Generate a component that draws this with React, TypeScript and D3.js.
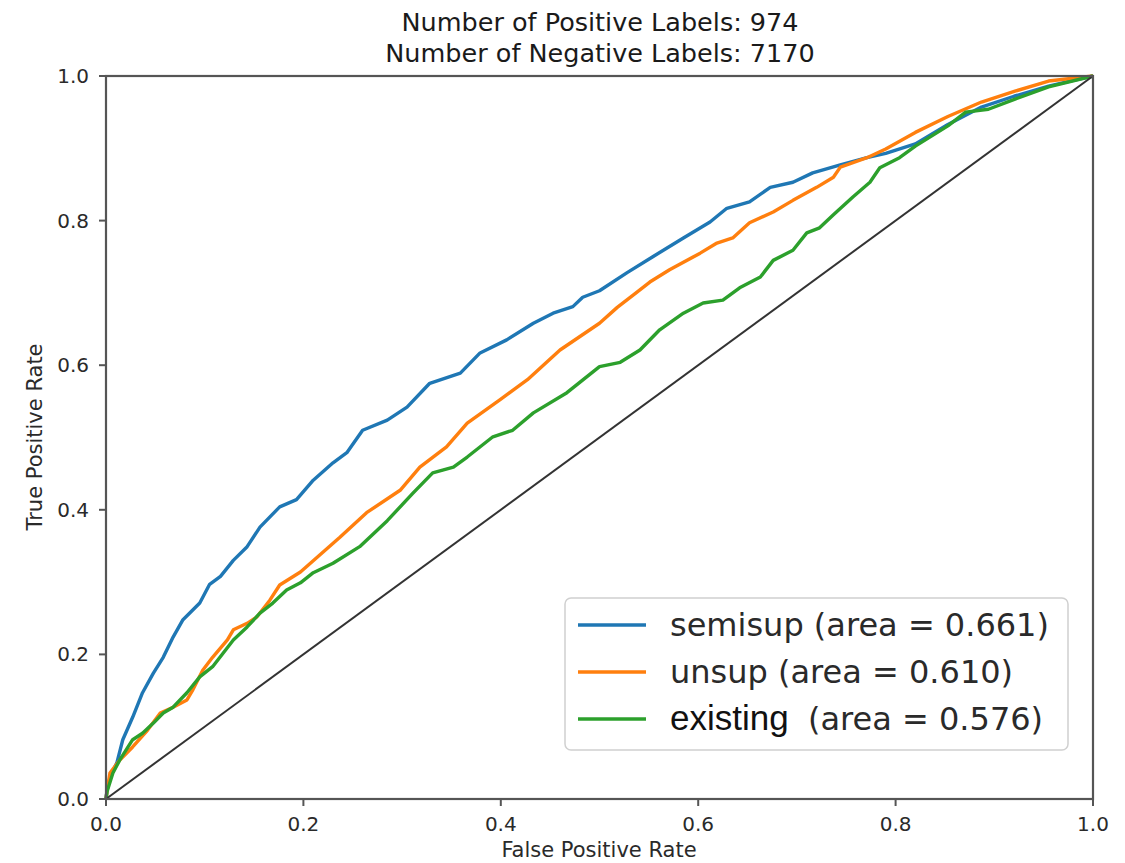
import * as d3 from 'd3';

// ROC points: [false positive rate, true positive rate]
const semisupPoints: [number, number][] = [
  [0, 0], [0.001, 0.012], [0.004, 0.03], [0.011, 0.05], [0.017, 0.082], [0.027, 0.113],
  [0.037, 0.147], [0.048, 0.174], [0.058, 0.196], [0.068, 0.224], [0.078, 0.248], [0.095, 0.271],
  [0.105, 0.297], [0.116, 0.308], [0.129, 0.33], [0.143, 0.349], [0.156, 0.376], [0.176, 0.404],
  [0.193, 0.414], [0.21, 0.441], [0.23, 0.465], [0.244, 0.479], [0.26, 0.51], [0.285, 0.524],
  [0.305, 0.542], [0.328, 0.575], [0.359, 0.589], [0.379, 0.617], [0.406, 0.635], [0.433, 0.658],
  [0.453, 0.672], [0.473, 0.681], [0.483, 0.694], [0.5, 0.703], [0.528, 0.728], [0.554, 0.75],
  [0.585, 0.776], [0.612, 0.798], [0.629, 0.817], [0.652, 0.826], [0.673, 0.846], [0.696, 0.853],
  [0.716, 0.866], [0.744, 0.877], [0.771, 0.887], [0.79, 0.893], [0.82, 0.906], [0.853, 0.933],
  [0.887, 0.957], [0.92, 0.972], [0.955, 0.986], [0.98, 0.994], [1, 1],
];

const unsupPoints: [number, number][] = [
  [0, 0], [0.001, 0.01], [0.004, 0.036], [0.014, 0.054], [0.027, 0.072], [0.042, 0.095],
  [0.055, 0.119], [0.068, 0.127], [0.082, 0.137], [0.088, 0.151], [0.098, 0.178], [0.108, 0.196],
  [0.123, 0.22], [0.129, 0.234], [0.143, 0.243], [0.153, 0.252], [0.166, 0.275], [0.176, 0.296],
  [0.197, 0.314], [0.237, 0.362], [0.264, 0.396], [0.298, 0.427], [0.318, 0.459], [0.345, 0.487],
  [0.366, 0.52], [0.399, 0.552], [0.427, 0.58], [0.46, 0.621], [0.5, 0.658], [0.518, 0.68],
  [0.538, 0.701], [0.551, 0.715], [0.571, 0.732], [0.602, 0.755], [0.619, 0.769], [0.635, 0.776],
  [0.652, 0.797], [0.676, 0.812], [0.696, 0.828], [0.72, 0.846], [0.737, 0.86], [0.744, 0.874],
  [0.771, 0.887], [0.79, 0.899], [0.82, 0.922], [0.853, 0.944], [0.887, 0.964], [0.921, 0.979],
  [0.955, 0.993], [1, 1],
];

const existingPoints: [number, number][] = [
  [0, 0], [0.001, 0.01], [0.007, 0.036], [0.014, 0.054], [0.027, 0.082], [0.037, 0.091],
  [0.048, 0.105], [0.058, 0.119], [0.068, 0.127], [0.082, 0.147], [0.095, 0.169], [0.108, 0.183],
  [0.129, 0.22], [0.143, 0.238], [0.156, 0.257], [0.169, 0.271], [0.183, 0.289], [0.197, 0.299],
  [0.21, 0.313], [0.23, 0.326], [0.257, 0.349], [0.285, 0.385], [0.311, 0.423], [0.331, 0.451],
  [0.352, 0.459], [0.366, 0.473], [0.392, 0.501], [0.412, 0.51], [0.433, 0.534], [0.467, 0.562],
  [0.5, 0.598], [0.521, 0.604], [0.541, 0.621], [0.561, 0.649], [0.585, 0.672], [0.605, 0.686],
  [0.625, 0.69], [0.642, 0.707], [0.663, 0.722], [0.676, 0.745], [0.696, 0.759], [0.71, 0.783],
  [0.723, 0.79], [0.737, 0.808], [0.757, 0.833], [0.774, 0.853], [0.784, 0.873], [0.804, 0.887],
  [0.82, 0.903], [0.853, 0.931], [0.871, 0.95], [0.894, 0.954], [0.921, 0.968], [0.955, 0.985],
  [1, 1],
];

const chancePoints: [number, number][] = [[0, 0], [1, 1]];

const seriesNames = ['semisup', 'unsup', 'existing'];
const seriesAreas = ['0.661', '0.610', '0.576'];
const seriesColors = ['#1f77b4', '#ff7f0e', '#2ca02c'];
const tickValues = [0, 0.2, 0.4, 0.6, 0.8, 1.0];
const titleLines = ['Number of Positive Labels: 974', 'Number of Negative Labels: 7170'];

const W = 1125;
const H = 863;
const font = 'DejaVu Sans, sans-serif';

export default function App() {
  const x = d3.scaleLinear().domain([0, 1]).range([106, 1093]);
  const y = d3.scaleLinear().domain([0, 1]).range([799, 76]);
  const line = d3.line<[number, number]>().x(d => x(d[0])).y(d => y(d[1]));
  const allSeries = [semisupPoints, unsupPoints, existingPoints];

  // legend geometry
  const lgX = 565, lgY = 598, lgW = 503, lgH = 152;
  const rowBase = [636, 683, 730];

  return (
    <svg width={W} height={H} style={{ position: 'absolute', left: 0, top: 0, background: '#fff' }}>
      <rect x={0} y={0} width={W} height={H} fill="#fff" />
      {titleLines.map((t, i) => (
        <text key={t} x={600} y={31 + i * 31} textAnchor="middle" fontFamily={font} fontSize={25.5} fill="#1a1a1a">
          {t}
        </text>
      ))}

      <g>
        {allSeries.map((pts, i) => (
          <path key={seriesNames[i]} d={line(pts) ?? ''} fill="none" stroke={seriesColors[i]}
            strokeWidth={3.4} strokeLinejoin="round" />
        ))}
        <path d={line(chancePoints) ?? ''} fill="none" stroke="#333" strokeWidth={2} />
      </g>

      {/* spines */}
      <rect x={x(0)} y={y(1)} width={x(1) - x(0)} height={y(0) - y(1)} fill="none" stroke="#555" strokeWidth={2.2} />

      {/* x ticks */}
      {tickValues.map(v => (
        <g key={'x' + v}>
          <line x1={x(v)} x2={x(v)} y1={y(0)} y2={y(0) + 7} stroke="#555" strokeWidth={2} />
          <text x={x(v)} y={831} textAnchor="middle" fontFamily={font} fontSize={20} fill="#2a2a2a">
            {v.toFixed(1)}
          </text>
        </g>
      ))}
      {/* y ticks */}
      {tickValues.map(v => (
        <g key={'y' + v}>
          <line x1={x(0) - 7} x2={x(0)} y1={y(v)} y2={y(v)} stroke="#555" strokeWidth={2} />
          <text x={89} y={y(v) + 7} textAnchor="end" fontFamily={font} fontSize={20} fill="#2a2a2a">
            {v.toFixed(1)}
          </text>
        </g>
      ))}

      <text x={599} y={857} textAnchor="middle" fontFamily={font} fontSize={21} fill="#2a2a2a">False Positive Rate</text>
      <text transform="translate(42,437) rotate(-90)" textAnchor="middle" fontFamily={font} fontSize={21} fill="#2a2a2a">
        True Positive Rate
      </text>

      {/* legend */}
      <rect x={lgX} y={lgY} width={lgW} height={lgH} rx={6} fill="#fff" fillOpacity={0.85} stroke="#d0d0d0" strokeWidth={1.5} />
      {seriesNames.map((name, i) => (
        <g key={'lg' + name}>
          <line x1={578} x2={646} y1={rowBase[i] - 11} y2={rowBase[i] - 11} stroke={seriesColors[i]} strokeWidth={3.4} />
          {name === 'existing' ? (
            <>
              <text x={670} y={rowBase[i]} fontFamily="Liberation Sans, Arial, sans-serif" fontSize={35} fill="#111">{name}</text>
              <text x={808} y={rowBase[i]} fontFamily={font} fontSize={32} fill="#2a2a2a">{`(area = ${seriesAreas[i]})`}</text>
            </>
          ) : (
            <text x={670} y={rowBase[i]} fontFamily={font} fontSize={32} fill="#2a2a2a">
              {`${name} (area = ${seriesAreas[i]})`}
            </text>
          )}
        </g>
      ))}
    </svg>
  );
}
